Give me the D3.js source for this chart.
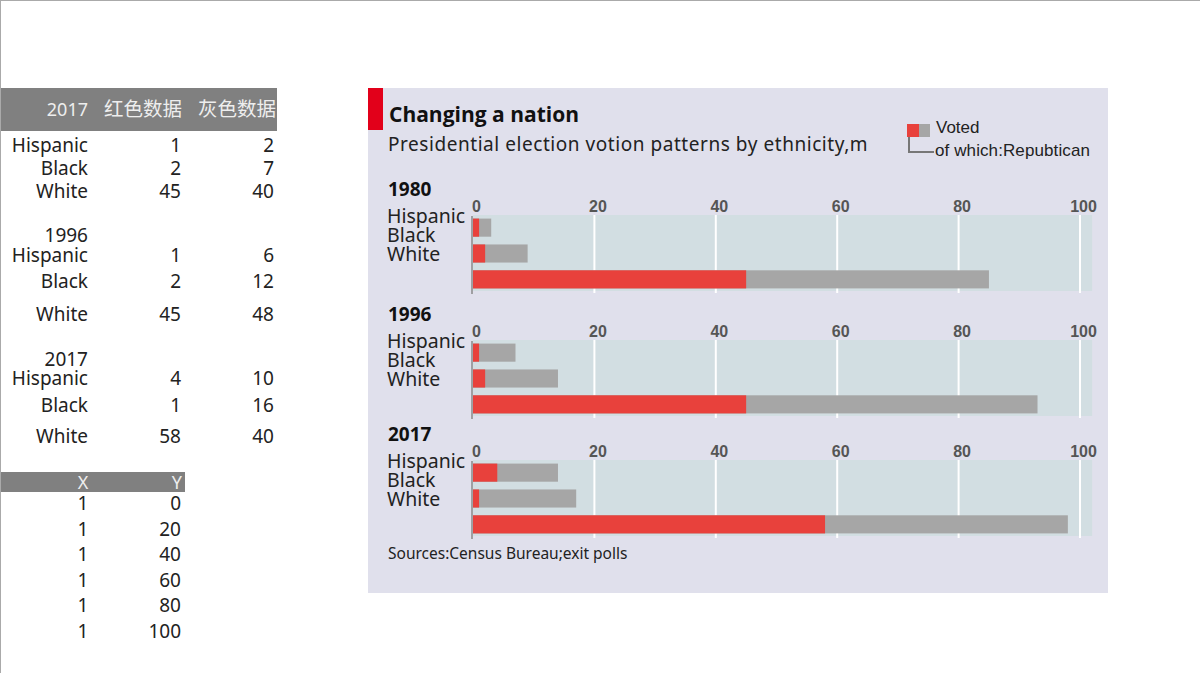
<!DOCTYPE html>
<html>
<head>
<meta charset="utf-8">
<script src="https://cdn.jsdelivr.net/npm/d3@7"></script>
<style>
  body { margin: 0; background: #fff; }
  svg { display: block; }
</style>
</head>
<body>
<svg id="chart" width="1200" height="673"></svg>
<script>
// data
var years = ['1980', '1996', '2017'];
var groups = ['Hispanic', 'Black', 'White'];
var red1980 = [1, 2, 45];
var grey1980 = [2, 7, 40];
var red1996 = [1, 2, 45];
var grey1996 = [6, 12, 48];
var red2017 = [4, 1, 58];
var grey2017 = [10, 16, 40];
var tickX = [1, 1, 1, 1, 1, 1];
var tickY = [0, 20, 40, 60, 80, 100];

var redByYear = { '1980': red1980, '1996': red1996, '2017': red2017 };
var greyByYear = { '1980': grey1980, '1996': grey1996, '2017': grey2017 };

var RED = '#e8413c', GREY = '#a6a6a6';
var svg = d3.select('#chart');
var tableFont = '"Noto Sans", "Open Sans", sans-serif';
var cjkFont = '"Noto Sans CJK SC", sans-serif';

// slide border
svg.append('line').attr('x1', 0).attr('x2', 1200).attr('y1', 0.5).attr('y2', 0.5).attr('stroke', '#aaa');
svg.append('line').attr('x1', 0.5).attr('x2', 0.5).attr('y1', 0).attr('y2', 673).attr('stroke', '#aaa');

// ---- left data table ----
var tbl = svg.append('g');
tbl.append('rect').attr('x', 1).attr('y', 88).attr('width', 276).attr('height', 43).attr('fill', '#808080');
tbl.append('text').attr('x', 88).attr('y', 116).attr('text-anchor', 'end')
  .style('font', '18px ' + tableFont).attr('fill', '#eee').text('2017');
tbl.append('text').attr('x', 182).attr('y', 116).attr('text-anchor', 'end')
  .style('font', '19.5px ' + cjkFont).attr('fill', '#eee').text('红色数据');
tbl.append('text').attr('x', 276).attr('y', 116).attr('text-anchor', 'end')
  .style('font', '19.5px ' + cjkFont).attr('fill', '#eee').text('灰色数据');

var rowBase = [[152, 175, 198], [262, 288, 321], [385, 412, 443]];
var yearRow = [null, 242, 366];
years.forEach(function(yr, i) {
  if (yearRow[i]) {
    tbl.append('text').attr('x', 88).attr('y', yearRow[i]).attr('text-anchor', 'end')
      .style('font', '19px ' + tableFont).attr('fill', '#222').text(yr);
  }
  groups.forEach(function(g, j) {
    var row = tbl.append('g').style('font', '19px ' + tableFont).attr('fill', '#222');
    row.append('text').attr('x', 88).attr('y', rowBase[i][j]).attr('text-anchor', 'end').text(g);
    row.append('text').attr('x', 181).attr('y', rowBase[i][j]).attr('text-anchor', 'end').text(redByYear[yr][j]);
    row.append('text').attr('x', 274).attr('y', rowBase[i][j]).attr('text-anchor', 'end').text(greyByYear[yr][j]);
  });
});

// small X/Y table
tbl.append('rect').attr('x', 1).attr('y', 472).attr('width', 184).attr('height', 20).attr('fill', '#808080');
tbl.append('text').attr('x', 83).attr('y', 489).attr('text-anchor', 'middle')
  .style('font', '18px ' + tableFont).attr('fill', '#eee').text('X');
tbl.append('text').attr('x', 182).attr('y', 489).attr('text-anchor', 'end')
  .style('font', '18px ' + tableFont).attr('fill', '#eee').text('Y');
tickY.forEach(function(v, i) {
  var yy = 510 + i * 25.5;
  tbl.append('text').attr('x', 83).attr('y', yy).attr('text-anchor', 'middle')
    .style('font', '19px ' + tableFont).attr('fill', '#222').text(tickX[i]);
  tbl.append('text').attr('x', 181).attr('y', yy).attr('text-anchor', 'end')
    .style('font', '19px ' + tableFont).attr('fill', '#222').text(v);
});

// ---- chart panel ----
svg.append('rect').attr('x', 368).attr('y', 88).attr('width', 740).attr('height', 505).attr('fill', '#e0e0ec');
svg.append('rect').attr('x', 368).attr('y', 88).attr('width', 15).attr('height', 42).attr('fill', '#e2001a');

svg.append('text').attr('x', 389).attr('y', 122)
  .style('font', 'bold 21px "Open Sans", "Noto Sans", sans-serif').attr('fill', '#111')
  .text('Changing a nation');
svg.append('text').attr('x', 388).attr('y', 151)
  .style('font', '19px "Noto Sans", "Open Sans", sans-serif').attr('fill', '#222').attr('letter-spacing', 0.55)
  .text('Presidential election votion patterns by ethnicity,m');

// legend
var leg = svg.append('g');
leg.append('rect').attr('x', 907).attr('y', 124).attr('width', 12).attr('height', 13).attr('fill', RED);
leg.append('rect').attr('x', 919).attr('y', 124).attr('width', 11).attr('height', 13).attr('fill', GREY);
leg.append('path').attr('d', 'M909,137V152H934').attr('fill', 'none').attr('stroke', '#777').attr('stroke-width', 2);
leg.append('text').attr('x', 936).attr('y', 133)
  .style('font', '17px "Liberation Sans", Arial, sans-serif').attr('fill', '#222').text('Voted');
leg.append('text').attr('x', 935).attr('y', 156)
  .style('font', '17px "Liberation Sans", Arial, sans-serif').attr('fill', '#222').attr('letter-spacing', 0.1)
  .text('of which:Repubtican');

var x = d3.scaleLinear().domain([0, 100]).range([473, 1080]);
var panelTop = [215, 340, 460];
var panelH = 76;
var yb = d3.scaleBand().domain(groups).range([1, panelH]).paddingInner(0.3).paddingOuter(0.1);

years.forEach(function(yr, i) {
  var g = svg.append('g').attr('transform', 'translate(0,' + panelTop[i] + ')');

  g.append('rect').attr('x', x(0)).attr('y', 0)
    .attr('width', x(102) - x(0)).attr('height', panelH).attr('fill', '#d2dee2');

  // white gridlines
  g.selectAll('line.grid').data(tickY.slice(1)).enter().append('line')
    .attr('class', 'grid')
    .attr('x1', function(d) { return x(d); }).attr('x2', function(d) { return x(d); })
    .attr('y1', 0).attr('y2', panelH + 2)
    .attr('stroke', '#fff').attr('stroke-width', 2);

  // tick labels via d3 axis
  var ax = g.append('g').attr('transform', 'translate(3,-3)')
    .call(d3.axisTop(x).tickValues(tickY).tickSize(0).tickPadding(0));
  ax.select('.domain').remove();
  ax.selectAll('text').style('font', 'bold 16px "Liberation Sans", Arial, sans-serif').attr('fill', '#555');

  var rows = g.selectAll('g.bar').data(groups).enter().append('g').attr('class', 'bar');
  rows.append('rect')
    .attr('x', x(0))
    .attr('y', function(d) { return yb(d); })
    .attr('height', yb.bandwidth())
    .attr('width', function(d, j) { return x(redByYear[yr][j] + greyByYear[yr][j]) - x(0); })
    .attr('fill', GREY);
  rows.append('rect')
    .attr('x', x(0))
    .attr('y', function(d) { return yb(d); })
    .attr('height', yb.bandwidth())
    .attr('width', function(d, j) { return x(redByYear[yr][j]) - x(0); })
    .attr('fill', RED);

  g.append('line').attr('x1', x(0) - 1).attr('x2', x(0) - 1).attr('y1', 1).attr('y2', panelH + 3)
    .attr('stroke', '#8a8a8a').attr('stroke-width', 1.5);

  g.append('text').attr('x', 388).attr('y', -19)
    .style('font', 'bold 19px "Open Sans", "Noto Sans", sans-serif').attr('fill', '#111').text(yr);

  groups.forEach(function(name, j) {
    g.append('text').attr('x', 387).attr('y', 8 + j * 19)
      .style('font', '19.5px "Noto Sans", "Open Sans", sans-serif').attr('fill', '#222').text(name);
  });
});

svg.append('text').attr('x', 388).attr('y', 559)
  .style('font', '15.5px "Noto Sans", "Open Sans", sans-serif').attr('fill', '#222')
  .text('Sources:Census Bureau;exit polls');
</script>
</body>
</html>
